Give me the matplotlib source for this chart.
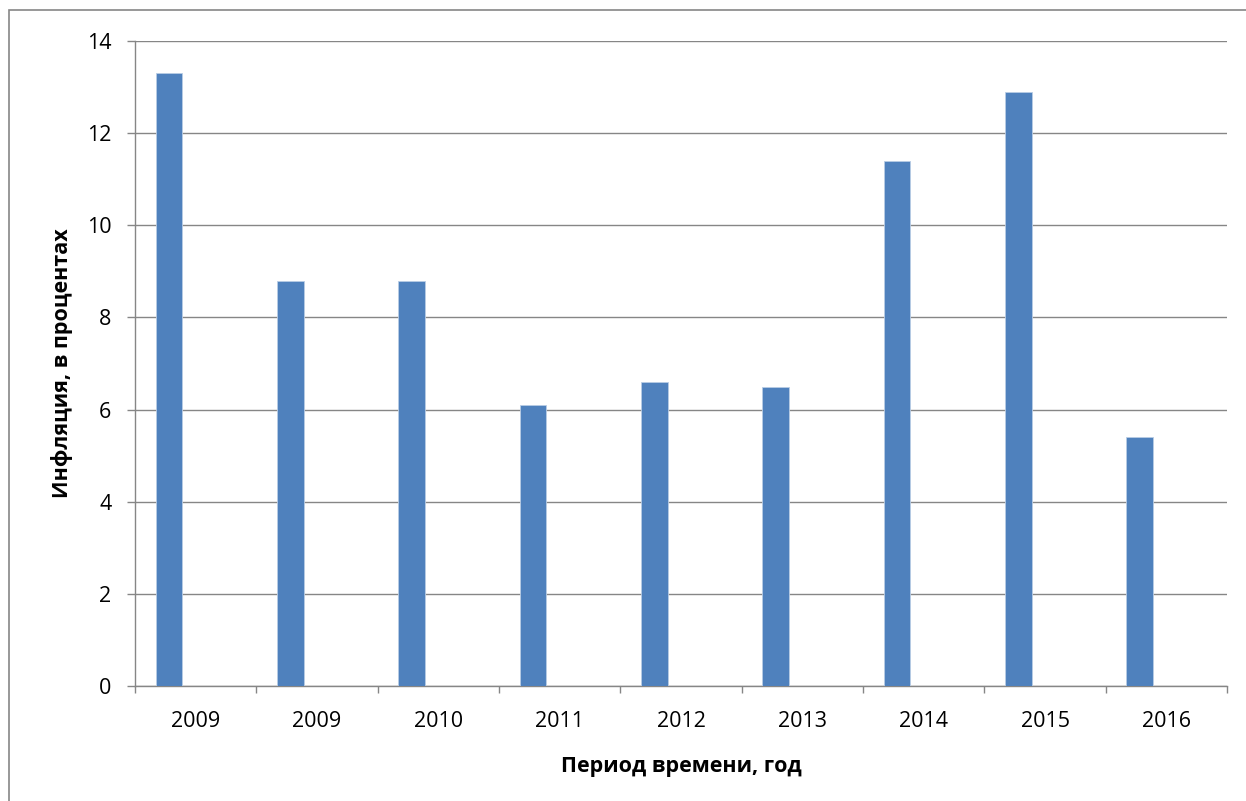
import matplotlib
matplotlib.use("Agg")
import matplotlib.pyplot as plt
from matplotlib.patches import Rectangle
import numpy as np

categories = ["2009", "2009", "2010", "2011", "2012", "2013", "2014", "2015", "2016"]
inflation = [13.3, 8.8, 8.8, 6.1, 6.6, 6.5, 11.4, 12.9, 5.4]
yticks = [0, 2, 4, 6, 8, 10, 12, 14]

plt.rcParams['font.family'] = ['Open Sans', 'DejaVu Sans']

W, H = 1246, 801
fig = plt.figure(figsize=(W / 100, H / 100), dpi=100)
ax = fig.add_axes([135 / W, 1 - 686 / H, (1227 - 135) / W, (686 - 41) / H])

# outer chart frame (extends past right/bottom edge)
fig.patches.append(Rectangle((9 / W, -0.05), 1.1, 1 - 10 / H + 0.05,
                             transform=fig.transFigure, fill=False,
                             edgecolor='#868686', linewidth=1.2))

x = np.arange(len(categories))
ax.bar(x - 0.22, inflation, width=0.22, color='#4F81BD', edgecolor='#B9CDE5',
       linewidth=0.6, zorder=3)

ax.set_xlim(-0.5, len(categories) - 0.5)
ax.set_ylim(0, 14)
ax.set_yticks(yticks)
ax.set_yticklabels([str(v) for v in yticks], fontsize=15.5)
ax.yaxis.grid(True, color='#868686', linewidth=1.0, zorder=0)
ax.set_xticks(np.arange(-0.5, len(categories), 1.0))
ax.set_xticklabels([])
ax.set_xticks(x, minor=True)
ax.set_xticklabels(categories, minor=True, fontsize=15.5)
ax.tick_params(axis='x', which='minor', length=0, pad=18)
ax.tick_params(axis='x', which='major', length=5, color='#868686', width=1.0)
ax.tick_params(axis='y', length=6, color='#868686', width=1.0, pad=11)

for s in ['top', 'right']:
    ax.spines[s].set_visible(False)
for s in ['left', 'bottom']:
    ax.spines[s].set_color('#868686')
    ax.spines[s].set_linewidth(1.0)

ax.set_xlabel("Период времени, год", fontsize=15.5, fontweight='bold', labelpad=17)
ax.set_ylabel("Инфляция, в процентах", fontsize=15.5, fontweight='bold', labelpad=10)

fig.savefig("out.png", dpi=100, facecolor='white')
